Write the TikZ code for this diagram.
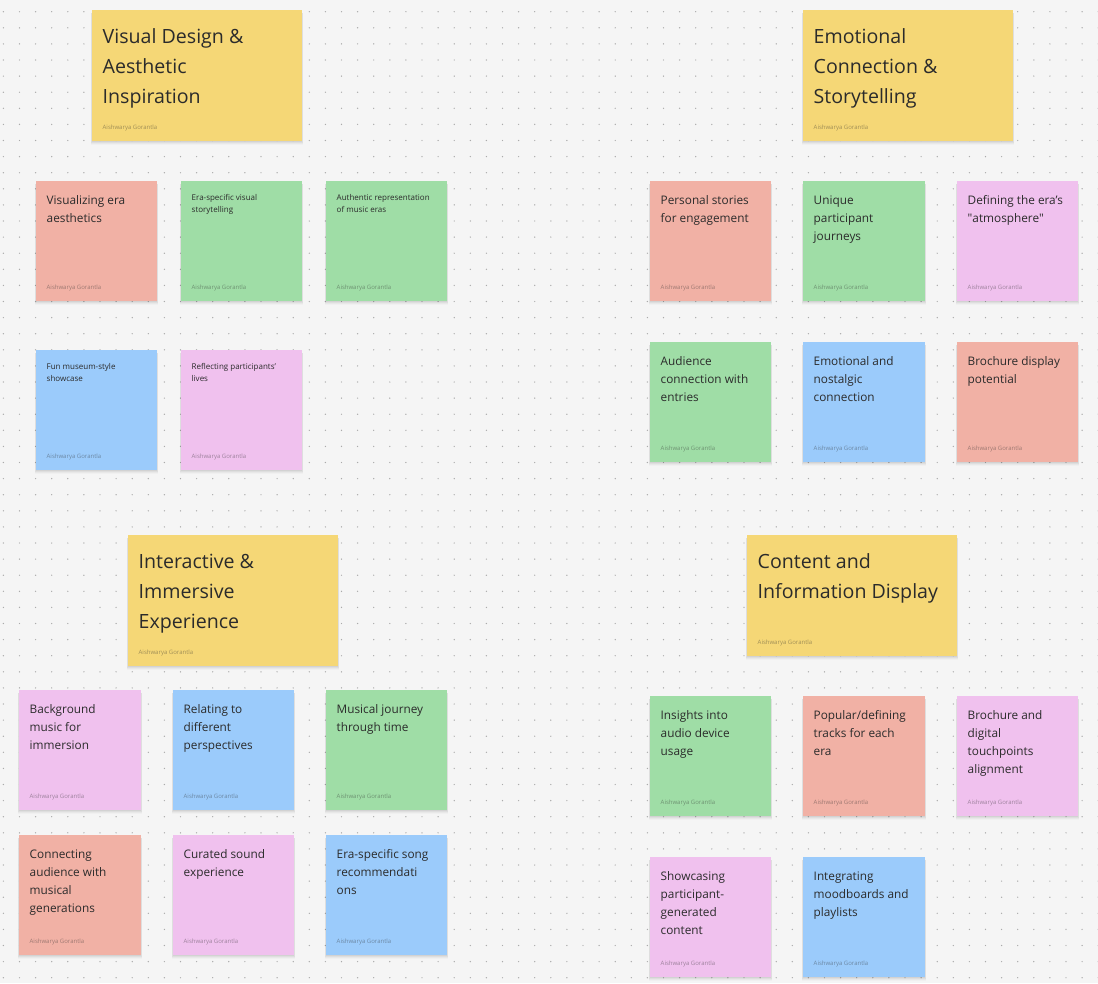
\documentclass[tikz,border=0pt]{standalone}
\usepackage{fontspec}
\setmainfont{Open Sans}
\newfontfamily\plainq{Open Sans}
\usetikzlibrary{calc}
\definecolor{bgc}{HTML}{F5F5F5}
\definecolor{dotc}{HTML}{ABABAB}
\definecolor{yel}{HTML}{F5D776}
\definecolor{red}{HTML}{F1B1A5}
\definecolor{grn}{HTML}{9FDDA6}
\definecolor{blu}{HTML}{9BCBFB}
\definecolor{pnk}{HTML}{F0C1EE}
\definecolor{ink}{HTML}{2B2B2B}
\tikzset{
  txt/.style={anchor=north west,inner sep=0pt,align=left,text=ink},
  big/.style={txt,font=\fontsize{19.6}{30}\selectfont},
  mid/.style={txt,font=\fontsize{11.8}{18}\selectfont},
  sml/.style={txt,font=\fontsize{8}{12}\selectfont},
  auth/.style={anchor=west,inner sep=0pt,text=ink,text opacity=.42,font=\fontsize{6}{7}\selectfont},
}
% name, x0, y0, x1, y1, colour, text style, text-top offset, text
\newcommand{\sticky}[9]{%
  \foreach \s/\o in {4/.02,3/.03,2/.04,1/.05}{%
    \fill[black,opacity=\o] (#2-\s*.3,#3+3) rectangle (#4+\s*.3,#5+\s*.9);}%
  \path let \n1={#4-#2},\n2={#5-#3} in
    node[draw=none,fill=#6,anchor=north west,inner sep=0pt,minimum width=\n1*1pt,minimum height=\n2*1pt] (#1) at (#2,#3) {};
  \node[#7] (#1t) at (#2+10.5,#3+#8) {\strut #9};
  \node[auth] (#1a) at (#2+10.5,#5-13.5) {Aishwarya Gorantla};
}
\begin{document}
\begin{tikzpicture}[x=1pt,y=-1pt]
\useasboundingbox (0,0) rectangle (1098,983);
\fill[bgc] (0,0) rectangle (1098,983);
\foreach \i in {0,...,68}{\foreach \j in {0,...,60}{%
  \fill[dotc] (3.4+\i*16.1,11.7+\j*16.1) circle (.7);}}
\sticky{a0}{92}{10}{302}{141}{yel}{big}{12}{Visual Design \&\\Aesthetic\\Inspiration}
\sticky{a1}{36}{181}{157}{301}{red}{mid}{11}{Visualizing era\\aesthetics}
\sticky{a2}{181}{181}{302}{301}{grn}{sml}{11}{Era-specific visual\\storytelling}
\sticky{a3}{326}{181}{447}{301}{grn}{sml}{11}{Authentic representation\\of music eras}
\sticky{a4}{36}{350}{157}{470}{blu}{sml}{11}{Fun museum-style\\showcase}
\sticky{a5}{181}{350}{302}{470}{pnk}{sml}{11}{Reflecting participants'\\lives}
\sticky{b0}{803}{10}{1013}{141}{yel}{big}{12}{Emotional\\Connection \&\\Storytelling}
\sticky{b1}{650}{181}{771}{301}{red}{mid}{11}{Personal stories\\for engagement}
\sticky{b2}{803}{181}{925}{301}{grn}{mid}{11}{Unique\\participant\\journeys}
\sticky{b3}{957}{181}{1078}{301}{pnk}{mid}{11}{Defining the era's\\{\plainq"}atmosphere{\plainq"}}
\sticky{b4}{650}{342}{771}{462}{grn}{mid}{11}{Audience\\connection with\\entries}
\sticky{b5}{803}{342}{925}{462}{blu}{mid}{11}{Emotional and\\nostalgic\\connection}
\sticky{b6}{957}{342}{1078}{462}{red}{mid}{11}{Brochure display\\potential}
\sticky{c0}{128}{535}{338}{666}{yel}{big}{12}{Interactive \&\\Immersive\\Experience}
\sticky{c1}{19}{690}{141}{810}{pnk}{mid}{11}{Background\\music for\\immersion}
\sticky{c2}{173}{690}{294}{810}{blu}{mid}{11}{Relating to\\different\\perspectives}
\sticky{c3}{326}{690}{447}{810}{grn}{mid}{11}{Musical journey\\through time}
\sticky{c4}{19}{835}{141}{955}{red}{mid}{11}{Connecting\\audience with\\musical\\generations}
\sticky{c5}{173}{835}{294}{955}{pnk}{mid}{11}{Curated sound\\experience}
\sticky{c6}{326}{835}{447}{955}{blu}{mid}{11}{Era-specific song\\recommendati\\ons}
\sticky{d0}{747}{535}{957}{656}{yel}{big}{12}{Content and\\Information Display}
\sticky{d1}{650}{696}{771}{816}{grn}{mid}{11}{Insights into\\audio device\\usage}
\sticky{d2}{803}{696}{925}{816}{red}{mid}{11}{Popular/defining\\tracks for each\\era}
\sticky{d3}{957}{696}{1078}{816}{pnk}{mid}{11}{Brochure and\\digital\\touchpoints\\alignment}
\sticky{d4}{650}{857}{771}{977}{pnk}{mid}{11}{Showcasing\\participant-\\generated\\content}
\sticky{d5}{803}{857}{925}{977}{blu}{mid}{11}{Integrating\\moodboards and\\playlists}
\end{tikzpicture}
\end{document}
